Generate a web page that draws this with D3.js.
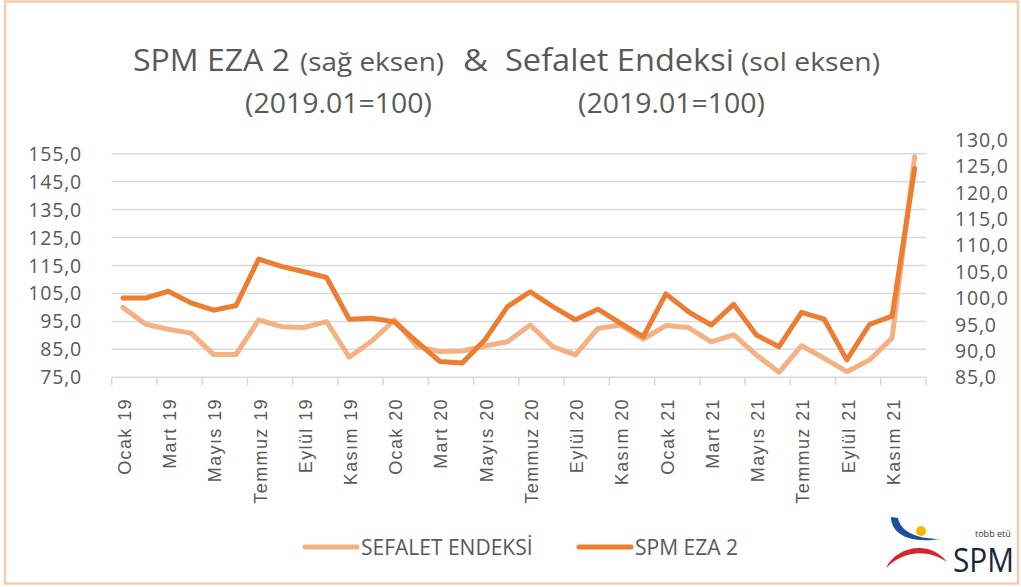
<!DOCTYPE html>
<html><head><meta charset="utf-8">
<script src="https://cdn.jsdelivr.net/npm/d3@7"></script>
<style>body{margin:0;background:#fff}svg{display:block}</style>
</head><body>
<svg id="c" width="1021" height="587"></svg>
<script>
const categories = ["Ocak 19","Şubat 19","Mart 19","Nisan 19","Mayıs 19","Haziran 19","Temmuz 19","Ağustos 19","Eylül 19","Ekim 19","Kasım 19","Aralık 19",
"Ocak 20","Şubat 20","Mart 20","Nisan 20","Mayıs 20","Haziran 20","Temmuz 20","Ağustos 20","Eylül 20","Ekim 20","Kasım 20","Aralık 20",
"Ocak 21","Şubat 21","Mart 21","Nisan 21","Mayıs 21","Haziran 21","Temmuz 21","Ağustos 21","Eylül 21","Ekim 21","Kasım 21","Aralık 21"];
const sefalet = [100.0, 94.0, 92.2, 90.8, 83.2, 83.2, 95.5, 93.1, 92.8, 94.9, 82.2, 88.0,
                 95.5, 86.0, 84.2, 84.4, 86.2, 87.7, 93.7, 86.0, 83.0, 92.5, 93.7, 88.7,
                 93.5, 92.8, 87.7, 90.2, 83.0, 76.8, 86.3, 81.8, 77.0, 81.2, 89.0, 154.0];
const spmEza2 = [100.0, 100.0, 101.3, 99.1, 97.7, 98.6, 107.4, 106.0, 105.0, 103.9, 96.0, 96.2,
                 95.5, 91.7, 88.0, 87.7, 92.1, 98.4, 101.2, 98.4, 95.9, 97.9, 95.2, 92.7,
                 100.8, 97.4, 94.9, 98.8, 93.0, 90.8, 97.3, 96.0, 88.3, 95.0, 96.6, 124.6];
const leftTicks = [75,85,95,105,115,125,135,145,155];
const rightTicks = [85,90,95,100,105,110,115,120,125,130];
const seriesNames = ["SEFALET ENDEKSİ","SPM EZA 2"];

const svg = d3.select("#c");
const X0=111.7, X1=926, YT=139.7, YB=377.3;
const fmt = v => d3.format(".1f")(v).replace(".", ",");
const grey="#595959", gridC="#d9d9d9";
const cLight="#f4b183", cDark="#ed7d31";

// border
svg.append("rect").attr("x",5).attr("y",1.5).attr("width",1013).attr("height",582)
  .attr("fill","#fff").attr("stroke","#f8cbad").attr("stroke-width",2.5);

const x = d3.scaleBand().domain(d3.range(categories.length)).range([X0,X1]).padding(0);
const cx = i => x(i)+x.bandwidth()/2;
const yL = d3.scaleLinear().domain([75,160]).range([YB,YT]);
const yR = d3.scaleLinear().domain([85,130]).range([YB,YT]);

// gridlines
svg.append("g").selectAll("line").data(leftTicks.slice(1)).join("line")
  .attr("x1",X0).attr("x2",X1).attr("y1",d=>yL(d)).attr("y2",d=>yL(d))
  .attr("stroke",gridC).attr("stroke-width",1.5);

// x axis
const xa = svg.append("g");
xa.append("line").attr("x1",X0).attr("x2",X1).attr("y1",YB).attr("y2",YB).attr("stroke",gridC).attr("stroke-width",1.5);
const tickIdx = d3.range(0, categories.length+1, 2);
xa.selectAll("line.t").data(tickIdx).join("line").attr("class","t")
  .attr("x1",i=> i<categories.length ? x(i) : X1).attr("x2",i=> i<categories.length ? x(i) : X1)
  .attr("y1",YB).attr("y2",YB+8).attr("stroke",gridC).attr("stroke-width",1.5);
xa.selectAll("text").data(d3.range(0,categories.length,2)).join("text")
  .attr("transform",i=>`translate(${cx(i)+1.5},398) rotate(-90)`)
  .attr("text-anchor","end").attr("dy","0.35em")
  .attr("font-family","Liberation Sans, Arial, sans-serif").attr("font-size",18)
  .attr("letter-spacing",1.4).attr("fill",grey).text(i=>categories[i]);

// left axis labels
svg.append("g").selectAll("text").data(leftTicks).join("text")
  .attr("x",82).attr("y",d=>yL(d)).attr("dy","0.36em").attr("text-anchor","end")
  .attr("font-family","Open Sans, sans-serif").attr("font-size",19.5).attr("letter-spacing",0.8)
  .attr("fill",grey).text(fmt);
// right axis labels
svg.append("g").selectAll("text").data(rightTicks).join("text")
  .attr("x",955).attr("y",d=>yR(d)).attr("dy","0.36em").attr("text-anchor","start")
  .attr("font-family","Open Sans, sans-serif").attr("font-size",19.5).attr("letter-spacing",0.8)
  .attr("fill",grey).text(fmt);

// lines
const lineL = d3.line().x((d,i)=>cx(i)).y(d=>yL(d));
const lineR = d3.line().x((d,i)=>cx(i)).y(d=>yR(d));
svg.append("path").datum(sefalet).attr("d",lineL).attr("fill","none").attr("stroke",cLight)
  .attr("stroke-width",5).attr("stroke-linejoin","round").attr("stroke-linecap","round");
svg.append("path").datum(spmEza2).attr("d",lineR).attr("fill","none").attr("stroke",cDark)
  .attr("stroke-width",5).attr("stroke-linejoin","round").attr("stroke-linecap","round");

// title
const tg = svg.append("g").attr("font-family","Open Sans, sans-serif").attr("fill",grey);
const tpieces = [
  {t:"SPM EZA 2", x:133, w:157, s:31},
  {t:"(sağ eksen)", x:300, w:144, s:25},
  {t:"&", x:463, w:25, s:31},
  {t:"Sefalet Endeksi", x:505, w:229, s:31},
  {t:"(sol eksen)", x:741, w:139, s:25}
];
tpieces.forEach(p=>{
  tg.append("text").attr("x",p.x).attr("y",71).attr("font-size",p.s)
    .attr("textLength",p.w).attr("lengthAdjust","spacingAndGlyphs").text(p.t);
});
[[245,"(2019.01=100)"],[578,"(2019.01=100)"]].forEach(([xx,t])=>{
  tg.append("text").attr("x",xx).attr("y",113).attr("font-size",27)
    .attr("textLength",187).attr("lengthAdjust","spacingAndGlyphs").text(t);
});

// legend
const lg = svg.append("g");
const leg = [{n:seriesNames[0],c:cLight,x1:305,x2:357,tx:361},{n:seriesNames[1],c:cDark,x1:579,x2:631,tx:635}];
leg.forEach(l=>{
  lg.append("line").attr("x1",l.x1).attr("x2",l.x2).attr("y1",547).attr("y2",547)
    .attr("stroke",l.c).attr("stroke-width",5).attr("stroke-linecap","round");
  lg.append("text").attr("x",l.tx).attr("y",555).attr("font-family","Open Sans, sans-serif")
    .attr("font-size",21).attr("fill",grey).text(l.n);
});

// logo
const logo = svg.append("g");
logo.append("path").attr("d","M891,517 C891,533 908,544 940,539 C914,539 900,530 898,518 Z").attr("fill","#1f4e9c");
logo.append("circle").attr("cx",921).attr("cy",531).attr("r",5).attr("fill","#f5b800");
logo.append("path").attr("d","M886,568 C896,547 929,539 947,562 C928,549 904,550 886,568 Z").attr("fill","#d7262b");
logo.append("text").attr("x",975).attr("y",537).attr("font-family","Open Sans, sans-serif").attr("font-size",9).attr("fill","#333").text("tobb etü");
logo.append("text").attr("x",953).attr("y",572).attr("font-family","Open Sans, sans-serif").attr("font-size",32)
  .attr("textLength",61).attr("lengthAdjust","spacingAndGlyphs").attr("fill","#1c2440").text("SPM");
</script>
</body></html>
